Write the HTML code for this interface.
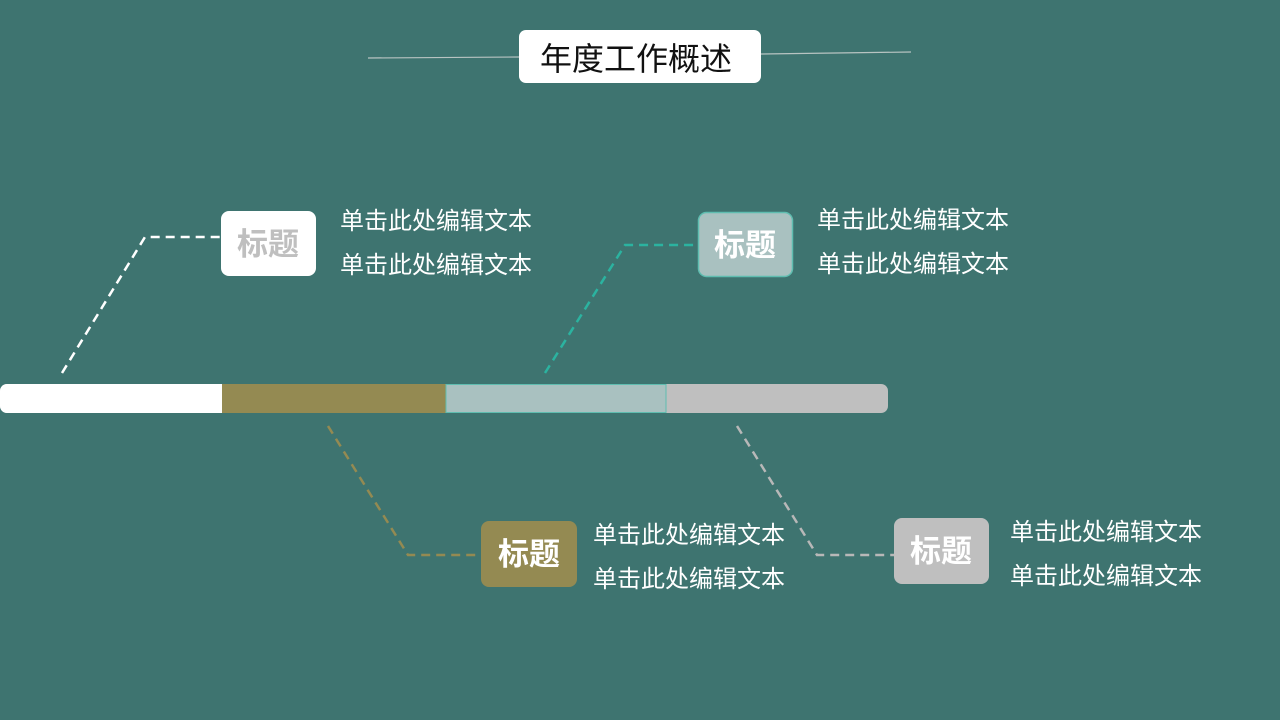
<!DOCTYPE html>
<html><head><meta charset="utf-8"><style>
html,body{margin:0;padding:0;background:#3e7470;}
svg{display:block;}
text{font-family:"Liberation Sans","Noto Sans CJK SC",sans-serif;}
</style></head><body>
<svg width="1280" height="720" viewBox="0 0 1280 720">
<rect width="1280" height="720" fill="#3e7470"/>
<line x1="368" y1="58" x2="519" y2="57" stroke="#b8c4c2" stroke-width="1.2"/>
<line x1="761" y1="54" x2="911" y2="52" stroke="#b8c4c2" stroke-width="1.2"/>
<rect x="519" y="30" width="242" height="53" rx="7" fill="#fff"/>
<text x="636" y="70" font-size="32" text-anchor="middle" fill="#111">年度工作概述</text>

<rect x="0" y="384" width="888" height="29" rx="7" fill="#bfbfbf"/>
<rect x="0" y="384" width="222" height="29" rx="7" fill="#fff"/>
<rect x="10" y="384" width="212" height="29" fill="#fff"/>
<rect x="222" y="384" width="224" height="29" fill="#948a52"/>
<rect x="446" y="384.5" width="220" height="28" fill="#a9c1c0" stroke="#5fbdb0" stroke-width="1"/>

<g fill="none" stroke-width="2.5" stroke-dasharray="9,6">
<polyline points="62,373 145,237 221,237" stroke="#fff"/>
<polyline points="545,373 625,245 698,245" stroke="#2bb3a0"/>
<polyline points="328,426 408,555 481,555" stroke="#948a52"/>
<polyline points="737,426 817,555 894,555" stroke="#b8b8b8"/>
</g>

<rect x="221" y="211" width="95" height="65" rx="8" fill="#fff"/>
<text x="268" y="255" font-size="31" font-weight="bold" text-anchor="middle" fill="#bfbfbf">标题</text>
<rect x="698.5" y="212.5" width="94" height="64" rx="8" fill="#a9c1c0" stroke="#5fbdb0" stroke-width="1.5"/>
<text x="745" y="256" font-size="31" font-weight="bold" text-anchor="middle" fill="#fff">标题</text>
<rect x="481" y="521" width="96" height="66" rx="8" fill="#948a52"/>
<text x="529" y="565" font-size="31" font-weight="bold" text-anchor="middle" fill="#fff">标题</text>
<rect x="894" y="518" width="95" height="66" rx="8" fill="#bfbfbf"/>
<text x="941" y="562" font-size="31" font-weight="bold" text-anchor="middle" fill="#fff">标题</text>

<g font-size="24" fill="#fff">
<text x="340" y="229">单击此处编辑文本</text>
<text x="340" y="273">单击此处编辑文本</text>
<text x="817" y="228">单击此处编辑文本</text>
<text x="817" y="272">单击此处编辑文本</text>
<text x="593" y="543">单击此处编辑文本</text>
<text x="593" y="587">单击此处编辑文本</text>
<text x="1010" y="540">单击此处编辑文本</text>
<text x="1010" y="584">单击此处编辑文本</text>
</g>
</svg>
</body></html>
